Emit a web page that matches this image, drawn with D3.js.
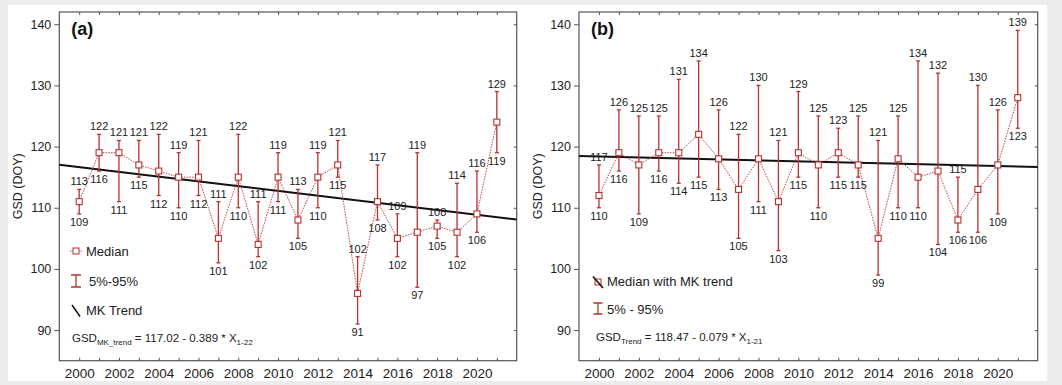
<!DOCTYPE html>
<html>
<head>
<meta charset="utf-8">
<script src="https://cdn.jsdelivr.net/npm/d3@7"></script>
<style>
  body { margin: 0; background: #ececec; }
  svg { display: block; font-family: "Liberation Sans", Arial, sans-serif; }
</style>
</head>
<body>
<svg id="chart" width="1062" height="385"></svg>
<script>
// years shared by both panels
const years = d3.range(2000, 2022);

// panel (a)
const medianA = [111, 119, 119, 117, 116, 115, 115, 105, 115, 104, 115, 108, 115, 117, 96, 111, 105, 106, 107, 106, 109, 124];
const upperA  = [113, 122, 121, 121, 122, 119, 121, 111, 122, 111, 119, 113, 119, 121, 102, 117, 109, 119, 108, 114, 116, 129];
const lowerA  = [109, 116, 111, 115, 112, 110, 112, 101, 110, 102, 111, 105, 110, 115, 91, 108, 102, 97, 105, 102, 106, 119];

// panel (b)
const medianB = [112, 119, 117, 119, 119, 122, 118, 113, 118, 111, 119, 117, 119, 117, 105, 118, 115, 116, 108, 113, 117, 128];
const upperB  = [117, 126, 125, 125, 131, 134, 126, 122, 130, 121, 129, 125, 123, 125, 121, 125, 134, 132, 115, 130, 126, 139];
const lowerB  = [110, 116, 109, 116, 114, 115, 113, 105, 111, 103, 115, 110, 115, 115, 99, 110, 110, 104, 106, 106, 109, 123];

// trend: intercept, slope (X = 1 at 2000)
const trendA = [117.02, -0.389];
const trendB = [118.47, -0.079];

const yTicks = [90, 100, 110, 120, 130, 140];
const xLabelYears = d3.range(2000, 2021, 2);

const red = '#b8312f';
const axisCol = '#555';
const txt = '#222';

const svg = d3.select('#chart');
svg.append('rect').attr('x', 8).attr('y', 5).attr('width', 1039).attr('height', 376).attr('fill', '#fff');

const y = d3.scaleLinear().domain([85, 142]).range([360.7, 12]);

const panels = [
  {tag: '(a)', x0: 59.3, x1: 516.7, ylab: 22, med: medianA, up: upperA, lo: lowerA, trend: trendA, legend: 'a'},
  {tag: '(b)', x0: 579, x1: 1037.7, ylab: 542, med: medianB, up: upperB, lo: lowerB, trend: trendB, legend: 'b'}
];

panels.forEach(p => {
  const x = d3.scaleLinear().domain([1999, 2022]).range([p.x0, p.x1]);
  const g = svg.append('g');
  const top = y.range()[1], bot = y.range()[0];

  // frame
  g.append('rect').attr('x', p.x0).attr('y', top).attr('width', p.x1 - p.x0).attr('height', bot - top)
   .attr('fill', 'none').attr('stroke', axisCol).attr('stroke-width', 1.2);

  // axes
  const left = g.append('g').attr('transform', `translate(${p.x0},0)`)
    .call(d3.axisLeft(y).tickValues(yTicks).tickSize(5).tickPadding(3));
  const bottom = g.append('g').attr('transform', `translate(0,${bot})`)
    .call(d3.axisBottom(x).tickValues(years).tickSize(-3).tickPadding(8)
      .tickFormat(d => xLabelYears.includes(d) ? d : ''));
  const topAx = g.append('g').attr('transform', `translate(0,${top})`)
    .call(d3.axisTop(x).tickValues(years).tickSize(-3).tickFormat(''));
  const right = g.append('g').attr('transform', `translate(${p.x1},0)`)
    .call(d3.axisRight(y).tickValues(yTicks).tickSize(-3).tickFormat(''));
  [left, bottom, topAx, right].forEach(a => {
    a.select('.domain').remove();
    a.selectAll('line').attr('stroke', axisCol);
    a.selectAll('text').attr('fill', txt).attr('font-size', 12.5)
     .attr('font-family', '"Liberation Sans", Arial, sans-serif');
  });
  bottom.selectAll('text').attr('font-size', 13.5);

  // y label
  g.append('text').attr('transform', `translate(${p.ylab},${(top + bot) / 2}) rotate(-90)`)
   .attr('text-anchor', 'middle').attr('font-size', 12.5).attr('fill', txt).text('GSD (DOY)');

  // panel tag
  g.append('text').attr('x', p.x0 + 12).attr('y', 35).attr('font-size', 18).attr('font-weight', 'bold')
   .attr('fill', '#111').text(p.tag);

  // trend line
  const tr = X => p.trend[0] + p.trend[1] * X;
  g.append('line').attr('x1', x(1999)).attr('y1', y(tr(0))).attr('x2', x(2022)).attr('y2', y(tr(23)))
   .attr('stroke', '#111').attr('stroke-width', 2);

  const rows = years.map((yr, i) => ({yr, m: p.med[i], u: p.up[i], l: p.lo[i]}));

  // error bars
  const eb = g.append('g').selectAll('g').data(rows).join('g');
  eb.append('line').attr('x1', d => x(d.yr)).attr('x2', d => x(d.yr))
    .attr('y1', d => y(d.u)).attr('y2', d => y(d.l)).attr('stroke', red).attr('stroke-width', 1.3);
  eb.append('line').attr('x1', d => x(d.yr) - 2).attr('x2', d => x(d.yr) + 2)
    .attr('y1', d => y(d.u)).attr('y2', d => y(d.u)).attr('stroke', red).attr('stroke-width', 1.3);
  eb.append('line').attr('x1', d => x(d.yr) - 2).attr('x2', d => x(d.yr) + 2)
    .attr('y1', d => y(d.l)).attr('y2', d => y(d.l)).attr('stroke', red).attr('stroke-width', 1.3);

  // median dotted line
  g.append('path').datum(rows)
   .attr('d', d3.line().x(d => x(d.yr)).y(d => y(d.m)))
   .attr('fill', 'none').attr('stroke', red).attr('stroke-width', 0.9).attr('stroke-dasharray', '1.5,1.2');

  // squares
  g.append('g').selectAll('rect').data(rows).join('rect')
   .attr('x', d => x(d.yr) - 3).attr('y', d => y(d.m) - 3).attr('width', 6).attr('height', 6)
   .attr('fill', '#fff').attr('stroke', red).attr('stroke-width', 1.1);

  // value labels
  const lab = g.append('g').attr('font-size', 11).attr('fill', txt).attr('text-anchor', 'middle');
  lab.selectAll('text.u').data(rows).join('text').attr('class', 'u')
     .attr('x', d => x(d.yr)).attr('y', d => y(d.u) - 4).text(d => d.u);
  lab.selectAll('text.l').data(rows).join('text').attr('class', 'l')
     .attr('x', d => x(d.yr)).attr('y', d => y(d.l) + 12).text(d => d.l);

  // legend
  const lg = g.append('g').attr('fill', txt);
  if (p.legend === 'a') {
    lg.append('line').attr('x1', 70).attr('x2', 82).attr('y1', 251).attr('y2', 251)
      .attr('stroke', red).attr('stroke-dasharray', '1.5,1.2');
    lg.append('rect').attr('x', 73).attr('y', 248).attr('width', 6).attr('height', 6)
      .attr('fill', '#fff').attr('stroke', red);
    lg.append('text').attr('x', 86).attr('y', 255.5).attr('font-size', 13).text('Median');
    lg.append('path').attr('d', 'M76,275V287M71,275H81M71,287H81').attr('stroke', red).attr('stroke-width', 1.3).attr('fill', 'none');
    lg.append('text').attr('x', 89).attr('y', 285.5).attr('font-size', 13).text('5%-95%');
    lg.append('line').attr('x1', 72).attr('y1', 305).attr('x2', 80).attr('y2', 316.5).attr('stroke', '#111').attr('stroke-width', 1.5);
    lg.append('text').attr('x', 86).attr('y', 315).attr('font-size', 13).text('MK Trend');
    const eq = lg.append('text').attr('x', 72).attr('y', 342).attr('font-size', 11.5);
    eq.append('tspan').text('GSD');
    eq.append('tspan').attr('font-size', 8).attr('dy', 3).text('MK_trend');
    eq.append('tspan').attr('dy', -3).text(' = 117.02 - 0.389 * X');
    eq.append('tspan').attr('font-size', 8).attr('dy', 3).text('1-22');
  } else {
    lg.append('rect').attr('x', 595).attr('y', 279).attr('width', 6).attr('height', 6)
      .attr('fill', '#fff').attr('stroke', red);
    lg.append('line').attr('x1', 593).attr('y1', 276.5).attr('x2', 603).attr('y2', 288)
      .attr('stroke', '#111').attr('stroke-width', 1.6);
    lg.append('text').attr('x', 607).attr('y', 285.5).attr('font-size', 13).text('Median with MK trend');
    lg.append('path').attr('d', 'M598,303V314M593.5,303H602.5M593.5,314H602.5').attr('stroke', red).attr('stroke-width', 1.3).attr('fill', 'none');
    lg.append('text').attr('x', 607).attr('y', 313.5).attr('font-size', 13).text('5% - 95%');
    const eq = lg.append('text').attr('x', 596).attr('y', 341).attr('font-size', 11.5);
    eq.append('tspan').text('GSD');
    eq.append('tspan').attr('font-size', 8).attr('dy', 3).text('Trend');
    eq.append('tspan').attr('dy', -3).text(' = 118.47 - 0.079 * X');
    eq.append('tspan').attr('font-size', 8).attr('dy', 3).text('1-21');
  }
});
</script>
</body>
</html>
